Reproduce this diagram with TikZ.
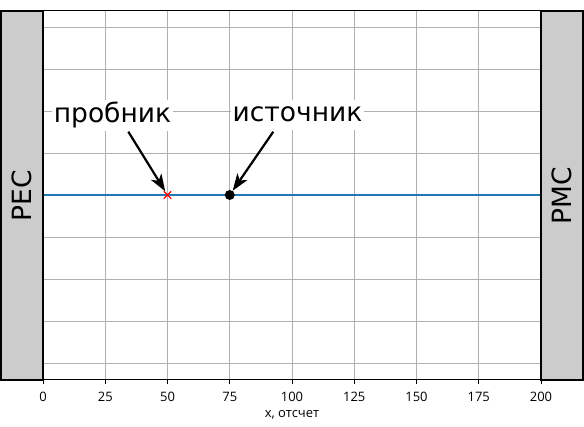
\documentclass[tikz,border=0pt]{standalone}
\usepackage{fontspec}
\setmainfont{DejaVu Sans}
\newfontfamily\tickfont{Open Sans}
\usepackage{tikz}
\usetikzlibrary{arrows.meta,positioning,calc}
\definecolor{mGrid}{RGB}{176,176,176}
\definecolor{mBlue}{RGB}{31,119,180}
\definecolor{mWall}{RGB}{204,204,204}
\definecolor{mRed}{RGB}{255,0,0}
\colorlet{cLine}{mBlue}
\colorlet{cProbe}{mRed}

\begin{document}
\begin{tikzpicture}[
			x=1pt,y=1pt,
			wall/.style={
				draw=black,
				fill=mWall,
				line width=2pt,
				minimum width=369pt,
				minimum height=42pt,
				inner sep=0pt,
				rotate=90,
				font=\fontsize{26.5}{30}\selectfont
			},
			lbl/.style={
				fill=white,
				inner sep=2pt,
				text height=20pt,
				text depth=6.4pt,
				anchor=base,
				font=\fontsize{26.5}{30}\selectfont
			},
			ticklbl/.style={
				inner sep=0pt,
				font=\tickfont\fontsize{13}{15}\selectfont
			},
			gridline/.style={draw=mGrid,line width=0.8pt},
			arr/.style={-{Stealth[length=17pt,width=12pt,inset=4.5pt]},line width=2.2pt}
			]
			\useasboundingbox (0,0) rectangle (584,426);
			\foreach \s in {25,50,...,175}
				\draw[gridline] (43+2.49*\s,46) -- (43+2.49*\s,415);
			\foreach \h in {63,105,...,399}
				\draw[gridline] (43,\h) -- (541,\h);
			\draw[cLine,line width=1.5pt] (43,231) -- (541,231);
			\draw[line width=1pt] (43,415) -- (541,415);
			\draw[line width=1pt] (43,46) -- (541,46);
			\foreach \s in {0,25,...,200}{
				\draw[line width=0.8pt] (43+2.49*\s,46) -- (43+2.49*\s,42);
				\node[ticklbl] at (43+2.49*\s,29) {\s};
			}
			\node[ticklbl] (xlabel) at (292,11) {x, отсчет};
			\node[wall] (pec) at (22,230.5) {PEC};
			\node[wall] (pmc) at (562,230.5) {PMC};
			\node[inner sep=0pt,minimum size=7pt] (probe) at (167.5,231) {};
			\draw[cProbe,line width=1.3pt] (probe.north west) -- (probe.south east)
				(probe.south west) -- (probe.north east);
			\node[circle,fill=black,inner sep=0pt,minimum size=10pt] (source) at (229.75,231) {};
			\node[lbl] (prlabel) at (112.5,303.5) {пробник};
			\node[lbl] (srclabel) at (297.5,304) {источник};
			\coordinate (prtail) at (128.3,294.3);
			\coordinate (srctail) at (273.3,294.3);
			\draw[arr] (prtail) -- (probe);
			\draw[arr] (srctail) -- (source);
		\end{tikzpicture}
\end{document}
